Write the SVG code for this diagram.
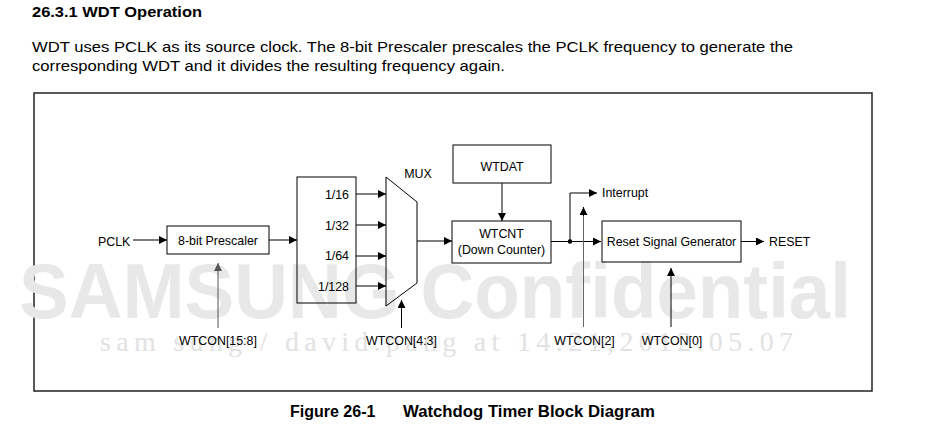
<svg xmlns="http://www.w3.org/2000/svg" width="927" height="432" viewBox="0 0 927 432">
<style>
.t{font-family:"Liberation Sans",Arial,sans-serif;fill:#000}
.d{font-size:12.4px}
.b{fill:none;stroke:#000;stroke-width:1}
.w{stroke:#000;stroke-width:1;fill:none}
</style>
<defs>
<marker id="ah" viewBox="0 0 8 8" refX="8" refY="4" markerWidth="8" markerHeight="8" markerUnits="userSpaceOnUse" orient="auto"><path d="M0,0 L8,4 L0,8 z" fill="#000"/></marker>
<marker id="ahg" viewBox="0 0 8 8" refX="8" refY="4" markerWidth="8" markerHeight="8" markerUnits="userSpaceOnUse" orient="auto"><path d="M0,0 L8,4 L0,8 z" fill="#555"/></marker>
</defs>
<rect width="927" height="432" fill="#fff"/>
<text class="t" x="32" y="16.5" font-size="15" font-weight="bold" textLength="170" lengthAdjust="spacingAndGlyphs">26.3.1 WDT Operation</text>
<text class="t" x="32" y="51.5" font-size="15" textLength="761" lengthAdjust="spacingAndGlyphs">WDT uses PCLK as its source clock. The 8-bit Prescaler prescales the PCLK frequency to generate the</text>
<text class="t" x="32" y="71" font-size="15" textLength="473" lengthAdjust="spacingAndGlyphs">corresponding WDT and it divides the resulting frequency again.</text>
<rect x="34" y="93" width="838" height="298" fill="none" stroke="#222" stroke-width="1.5"/>
<g id="watermark">
<text x="19" y="318" font-family="'Liberation Sans',Arial,sans-serif" font-size="77" font-weight="bold" fill="#e8e8e8" textLength="832" lengthAdjust="spacingAndGlyphs">SAMSUNG Confidential</text>
<text x="100" y="351" font-family="'Liberation Serif','Times New Roman',serif" font-size="28" fill="#e2e2e2" textLength="693">sam sung / david.pang at 14:21,2012.05.07</text>
</g>
<g id="connectors">
<line class="w" x1="133" y1="240" x2="167" y2="240" marker-end="url(#ah)"/>
<line class="w" x1="269" y1="240" x2="297" y2="240" marker-end="url(#ah)"/>
<line class="w" x1="356" y1="194" x2="386" y2="194" marker-end="url(#ah)"/>
<line class="w" x1="356" y1="225" x2="386" y2="225" marker-end="url(#ah)"/>
<line class="w" x1="356" y1="256" x2="386" y2="256" marker-end="url(#ah)"/>
<line class="w" x1="356" y1="286" x2="386" y2="286" marker-end="url(#ah)"/>
<line class="w" x1="417" y1="241" x2="452" y2="241" marker-end="url(#ah)"/>
<line class="w" x1="502" y1="183" x2="502" y2="221" marker-end="url(#ah)"/>
<line class="w" x1="551" y1="241.5" x2="601" y2="241.5" marker-end="url(#ah)"/>
<polyline class="w" points="570,241.5 570,193 597,193" marker-end="url(#ah)"/>
<circle cx="570" cy="241.5" r="2.3" fill="#000"/>
<line class="w" x1="741" y1="241.5" x2="764" y2="241.5" marker-end="url(#ah)"/>
<line x1="218" y1="328" x2="218" y2="263" stroke="#555" stroke-width="1" marker-end="url(#ahg)"/>
<line class="w" x1="401.5" y1="328" x2="401.5" y2="300" marker-end="url(#ah)"/>
<line x1="583.5" y1="327" x2="583.5" y2="213" stroke="#666" stroke-width="1"/>
<line class="w" x1="583.5" y1="216" x2="583.5" y2="207" marker-end="url(#ah)"/>
<line class="w" x1="671" y1="327" x2="671" y2="268" marker-end="url(#ah)"/>
</g>
<g id="pclk"><text class="t d" x="98" y="245.5">PCLK</text></g>
<g id="prescaler">
<rect class="b" x="167" y="226" width="102" height="28"/>
<text class="t d" x="218" y="244.5" text-anchor="middle">8-bit Prescaler</text>
</g>
<g id="divider">
<rect class="b" x="297" y="177" width="59" height="126"/>
<text class="t d" x="349" y="198.5" text-anchor="end">1/16</text>
<text class="t d" x="349" y="229.5" text-anchor="end">1/32</text>
<text class="t d" x="349" y="260" text-anchor="end">1/64</text>
<text class="t d" x="349" y="290.5" text-anchor="end">1/128</text>
</g>
<g id="mux">
<polygon class="b" points="386,177 417,202 417,283 386,306"/>
<text class="t d" x="418" y="178" text-anchor="middle">MUX</text>
</g>
<g id="wtdat">
<rect class="b" x="453" y="145" width="98" height="38"/>
<text class="t d" x="502" y="171" text-anchor="middle">WTDAT</text>
</g>
<g id="wtcnt">
<rect class="b" x="452" y="221" width="99" height="42"/>
<text class="t d" x="501.5" y="237.5" text-anchor="middle">WTCNT</text>
<text class="t d" x="501.5" y="254" text-anchor="middle">(Down Counter)</text>
</g>
<g id="interrupt"><text class="t d" x="602" y="197">Interrupt</text></g>
<g id="resetgen">
<rect class="b" x="602" y="221" width="139" height="41"/>
<text class="t d" x="671.5" y="246" text-anchor="middle">Reset Signal Generator</text>
</g>
<g id="reset"><text class="t d" x="769" y="246">RESET</text></g>
<g id="wtcon158"><text class="t d" x="218" y="345" text-anchor="middle">WTCON[15:8]</text></g>
<g id="wtcon43"><text class="t d" x="401.5" y="345" text-anchor="middle">WTCON[4:3]</text></g>
<g id="wtcon2"><text class="t d" x="584.5" y="345" text-anchor="middle">WTCON[2]</text></g>
<g id="wtcon0"><text class="t d" x="672" y="345" text-anchor="middle">WTCON[0]</text></g>
<text class="t" x="290" y="416.5" font-size="16" font-weight="bold">Figure 26-1</text>
<text class="t" x="403" y="416.5" font-size="16" font-weight="bold" textLength="252" lengthAdjust="spacingAndGlyphs">Watchdog Timer Block Diagram</text>
</svg>
